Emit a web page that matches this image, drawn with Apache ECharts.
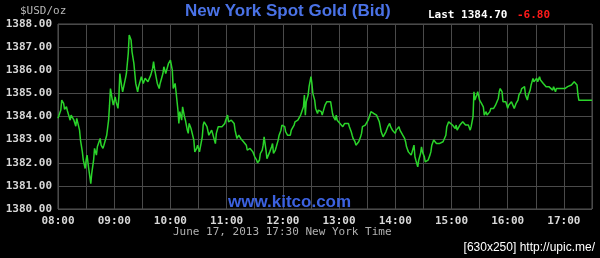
<!DOCTYPE html>
<html>
<head>
<meta charset="utf-8">
<script src="https://cdn.jsdelivr.net/npm/echarts@6/dist/echarts.min.js"></script>
<style>
html,body{margin:0;padding:0;background:#000;}
#c{width:600px;height:258px;}
</style>
</head>
<body>
<div id="c"></div>
<script>
// minutes after 08:00 New York time
const minutes = [
0,2,3,4,6,7,9,10,12,13,14,16,17,19,20,22,23,24,26,27,29,30,31,33,34,35,36,38,39,41,42,44,45,46,48,49,51,52,54,55,56,58,59,61,62,64,65,66,68,69,71,72,73,75,76,78,79,81,82,83,85,86,88,89,91,92,93,95,96,98,99,101,102,103,105,106,108,109,110,112,113,115,116,118,119,120,122,123,125,126,128,129,130,132,133,135,136,138,139,140,142,143,145,146,
148,149,151,152,154,155,156,158,159,161,162,164,165,166,168,169,171,172,173,175,176,178,179,181,182,183,185,186,188,189,191,192,193,195,196,198,199,201,202,203,205,206,208,209,210,212,213,215,216,218,219,220,222,223,225,226,228,229,230,232,233,235,236,238,239,240,242,243,245,246,248,249,250,252,253,255,256,257,259,260,262,263,264,265,267,268,270,271,272,274,275,277,278,280,281,282,284,285,287,289,291,
293,294,296,297,298,300,301,303,304,306,307,308,310,311,313,314,315,317,318,320,321,323,324,325,327,328,330,331,333,334,335,337,338,340,341,343,344,345,347,348,350,351,352,354,355,357,358,360,361,362,364,365,367,368,370,371,372,374,375,377,378,380,381,382,384,385,387,388,389,391,392,394,395,397,398,399,401,402,404,405,407,408,409,411,412,414,415,417,418,419,421,422,424,425,426,428,429,431,432,434,
435,437,438,440,441,443,444,445,447,448,450,451,452,454,455,457,458,460,461,462,464,465,467,468,470,471,472,474,475,477,478,480,481,482,484,485,487,488,489,491,492,494,495,497,498,499,501,502,504,505,507,508,509,511,512,514,515,517,518,519,521,522,524,525,526,528,529,531,532,534,535,536,538,539,541,542,544,545,546,548,549,551,552,554,555,556,570
];
// bid price, USD per troy ounce
const prices = [
1383.92,1383.99,1384.28,1384.71,1384.57,1384.31,1384.42,1384.25,1384.31,1383.84,1384.06,1383.99,1383.84,1383.58,1383.92,1383.84,1383.41,1382.98,1382.47,1382.11,1381.75,1382.11,1382.33,1381.68,1381.39,1381.10,1381.54,1382.11,1382.62,1382.33,1382.69,1382.62,1383.05,1382.76,1382.62,1382.76,1382.83,1383.19,1383.84,1384.49,1385.21,1384.71,1384.49,1384.85,1384.64,1384.35,1384.85,1385.86,1385.29,1385.07,1385.14,1385.65,1385.86,1386.73,1387.52,1387.31,1386.80,1386.30,1385.86,1385.43,1385.07,1385.29,1385.58,1385.72,1385.43,1385.50,1385.65,1385.72,1385.50,1385.58,1385.79,1386.08,1386.37,1386.08,1385.65,1385.43,1385.21,1385.43,1385.50,1385.86,1386.15,1385.86,1386.01,1386.30,1386.37,1386.44,1386.01,1385.21,1385.43,1385.07,1384.28,1383.70,1384.21,1383.84,1384.42,1383.99,1383.84,1383.41,1383.27,1383.70,1383.48,1383.56,1382.98,1382.47,
1382.62,1382.76,1382.47,1382.55,1383.12,1383.63,1383.77,1383.84,1383.56,1383.19,1383.12,1383.41,1383.27,1383.12,1382.83,1383.27,1383.56,1383.56,1383.56,1383.56,1383.56,1383.70,1383.84,1384.06,1383.77,1383.70,1383.84,1383.92,1383.70,1383.41,1383.05,1383.12,1383.19,1383.05,1383.01,1382.91,1382.83,1382.76,1382.55,1382.47,1382.62,1382.55,1382.47,1382.40,1382.26,1382.11,1382.00,1382.11,1382.40,1382.55,1382.76,1383.12,1382.55,1382.18,1382.26,1382.47,1382.69,1382.83,1382.40,1382.55,1382.69,1382.98,1383.19,1383.41,1383.63,1383.70,1383.56,1383.34,1383.19,1383.27,1383.19,1383.41,1383.48,1383.63,1383.77,1383.70,1383.84,1383.92,1384.06,1383.99,1384.42,1384.93,1384.06,1384.64,1384.93,1385.29,1385.72,1385.43,1385.00,1384.71,1384.35,1384.13,1384.28,1384.35,1384.21,1384.06,1384.35,1384.49,1384.64,1384.57,1384.64,
1384.13,1383.99,1383.84,1384.06,1383.84,1383.77,1383.70,1383.63,1383.56,1383.70,1383.77,1383.63,1383.70,1383.56,1383.34,1383.19,1383.05,1382.91,1382.76,1382.69,1382.91,1383.12,1383.27,1383.56,1383.48,1383.63,1383.56,1383.84,1384.06,1384.21,1384.25,1384.13,1384.06,1384.06,1383.99,1383.77,1383.56,1383.34,1383.12,1383.19,1383.34,1383.41,1383.56,1383.70,1383.56,1383.41,1383.34,1383.27,1383.41,1383.48,1383.56,1383.41,1383.34,1383.19,1383.05,1382.91,1382.69,1382.47,1382.40,1382.33,1382.26,1382.76,1382.26,1382.11,1381.82,1382.11,1382.40,1382.69,1382.47,1382.26,1382.04,1381.97,1382.11,1382.33,1382.47,1382.76,1382.98,1382.91,1382.83,1382.91,1382.83,1382.91,1382.83,1382.91,1382.91,1383.19,1383.56,1383.77,1383.84,1383.70,1383.63,1383.56,1383.48,1383.63,1383.41,1383.48,1383.63,1383.56,1383.77,1383.84,
1383.63,1383.56,1383.63,1383.41,1383.56,1383.99,1385.07,1384.71,1384.93,1385.07,1384.71,1384.78,1384.57,1384.42,1384.06,1384.21,1384.06,1383.99,1384.21,1384.35,1384.42,1384.35,1384.49,1384.57,1384.78,1385.07,1385.21,1385.07,1384.64,1384.57,1384.64,1384.35,1384.49,1384.42,1384.64,1384.57,1384.35,1384.28,1384.57,1384.71,1384.93,1385.07,1385.21,1385.14,1385.29,1384.93,1384.71,1384.93,1385.14,1385.36,1385.65,1385.50,1385.58,1385.65,1385.50,1385.72,1385.58,1385.50,1385.43,1385.36,1385.29,1385.21,1385.29,1385.36,1385.21,1385.14,1385.29,1385.07,1385.21,1385.14,1385.21,1385.14,1385.21,1385.14,1385.21,1385.29,1385.29,1385.21,1385.29,1385.36,1385.43,1385.50,1385.58,1385.36,1384.93,1384.70,1384.70
];
const xTickLabels = ['08:00','09:00','10:00','11:00','12:00','13:00','14:00','15:00','16:00','17:00'];
const yMin = 1380, yMax = 1388;
const xMax = 570; // 17:30
const titleText = 'New York Spot Gold (Bid)';
const unitText = '$USD/oz';
const lastText = 'Last 1384.70';
const changeText = '-6.80';
const watermark = 'www.kitco.com';
const footer = 'June 17, 2013 17:30 New York Time';
const credit = '[630x250] http://upic.me/';

const mono = '"DejaVu Sans Mono", monospace';
const chart = echarts.init(document.getElementById('c'), null, {renderer: 'canvas'});
chart.setOption({
  backgroundColor: '#000',
  animation: false,
  grid: {left: 58, right: 8, top: 24, bottom: 49, show: true, borderColor: '#555', borderWidth: 1, backgroundColor: 'transparent'},
  xAxis: {
    type: 'value', min: 0, max: xMax, interval: 30,
    axisLine: {show: false}, axisTick: {show: false},
    splitLine: {show: true, lineStyle: {color: '#4a4a4a', width: 1}},
    axisLabel: {
      color: '#d8d8d8', fontFamily: mono, fontWeight: 'bold', fontSize: 11, margin: 7,
      showMaxLabel: false,
      formatter: v => (v % 60 === 0 ? (xTickLabels[v / 60] || '') : '')
    }
  },
  yAxis: {
    type: 'value', min: yMin, max: yMax, interval: 1,
    axisLine: {show: false}, axisTick: {show: false},
    splitLine: {show: true, lineStyle: {color: '#4a4a4a', width: 1}},
    axisLabel: {color: '#d8d8d8', fontFamily: mono, fontWeight: 'bold', fontSize: 11, margin: 6,
      formatter: v => v.toFixed(2)}
  },
  graphic: [
    {type: 'text', left: 20, top: 6, z: 10, style: {text: unitText, fill: '#b8b8b8', font: '11px ' + mono}},
    {type: 'text', left: 185, top: 3, z: 10, style: {text: titleText, fill: '#4a72e6', font: 'bold 17px "Liberation Sans", Arial, sans-serif'}},
    {type: 'text', left: 428, top: 10, z: 10, style: {text: lastText, fill: '#ffffff', font: 'bold 11px ' + mono}},
    {type: 'text', left: 517, top: 10, z: 10, style: {text: changeText, fill: '#ff1a1a', font: 'bold 11px ' + mono}},
    {type: 'text', left: 228, top: 194, z: 1, style: {text: watermark, fill: '#3c62e0', font: 'bold 17px "Liberation Sans", Arial, sans-serif'}},
    {type: 'text', left: 173, top: 227, z: 10, style: {text: footer, fill: '#b0b0b0', font: '11px ' + mono}},
    {type: 'text', right: 5, top: 242, z: 10, style: {text: credit, fill: '#ffffff', font: '12px "Liberation Sans", sans-serif'}}
  ],
  series: [{
    type: 'line', z: 5,
    data: minutes.map((m, i) => [m, prices[i]]),
    showSymbol: false, symbol: 'none',
    lineStyle: {color: '#2ad42a', width: 1.5},
    emphasis: {disabled: true}
  }]
});
</script>
</body>
</html>
